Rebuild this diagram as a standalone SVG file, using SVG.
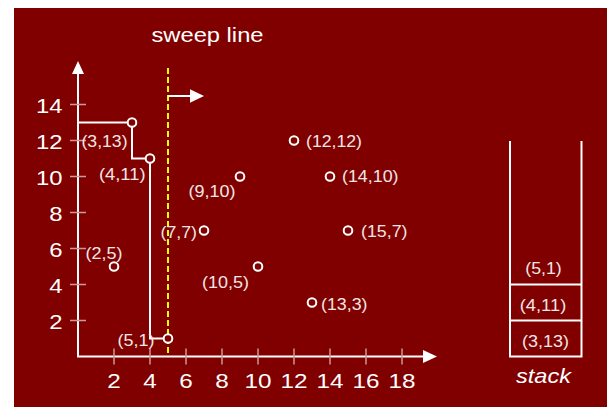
<svg xmlns="http://www.w3.org/2000/svg" width="614" height="407" viewBox="0 0 614 407">
<style>
.bg{fill:#800000}
.ax{stroke:#ffffff;stroke-width:2;fill:none}
.tk{stroke:#cc9999;stroke-width:1.5}
.ah{fill:#ffffff}
.pt{fill:#800000;stroke:#ffffff;stroke-width:2}
.lbl{font-family:"Liberation Sans",Arial,sans-serif;font-size:16.5px;fill:#f2e6e6}
.axl{font-family:"Liberation Sans",Arial,sans-serif;font-size:21px;fill:#ffffff}
.yl{font-family:"Liberation Sans",Arial,sans-serif;font-size:20.5px;fill:#ffffff;text-anchor:end}
.xl{text-anchor:middle}
.st{stroke:#ffffff;stroke-width:2;fill:none}
.mid{text-anchor:middle}
</style>
<rect class="bg" x="14" y="8" width="593" height="399"/>
<text class="axl" x="151.5" y="42" textLength="112" lengthAdjust="spacingAndGlyphs">sweep line</text>
<g id="axes">
<line class="ax" x1="78" y1="356.5" x2="78" y2="72"/>
<polygon class="ah" points="72,74 78,61 84,74"/>
<line class="ax" x1="77" y1="356.5" x2="425" y2="356.5"/>
<polygon class="ah" points="423,350 437,356.5 423,363"/>
<g class="tk">
<line x1="70" y1="104.5" x2="86" y2="104.5"/>
<line x1="70" y1="140.5" x2="86" y2="140.5"/>
<line x1="70" y1="176.5" x2="86" y2="176.5"/>
<line x1="70" y1="212.5" x2="86" y2="212.5"/>
<line x1="70" y1="248.5" x2="86" y2="248.5"/>
<line x1="70" y1="284.5" x2="86" y2="284.5"/>
<line x1="70" y1="320.5" x2="86" y2="320.5"/>
<line x1="114" y1="348.5" x2="114" y2="364.5"/>
<line x1="150" y1="348.5" x2="150" y2="364.5"/>
<line x1="186" y1="348.5" x2="186" y2="364.5"/>
<line x1="222" y1="348.5" x2="222" y2="364.5"/>
<line x1="258" y1="348.5" x2="258" y2="364.5"/>
<line x1="294" y1="348.5" x2="294" y2="364.5"/>
<line x1="330" y1="348.5" x2="330" y2="364.5"/>
<line x1="366" y1="348.5" x2="366" y2="364.5"/>
<line x1="402" y1="348.5" x2="402" y2="364.5"/>
</g>
<text class="yl" x="62.5" y="112.5" textLength="26.5" lengthAdjust="spacingAndGlyphs">14</text>
<text class="yl" x="62.5" y="148.5" textLength="26.5" lengthAdjust="spacingAndGlyphs">12</text>
<text class="yl" x="62.5" y="184.5" textLength="26.5" lengthAdjust="spacingAndGlyphs">10</text>
<text class="yl" x="62.5" y="220.5" textLength="13.3" lengthAdjust="spacingAndGlyphs">8</text>
<text class="yl" x="62.5" y="256.5" textLength="13.3" lengthAdjust="spacingAndGlyphs">6</text>
<text class="yl" x="62.5" y="292.5" textLength="13.3" lengthAdjust="spacingAndGlyphs">4</text>
<text class="yl" x="62.5" y="328.5" textLength="13.3" lengthAdjust="spacingAndGlyphs">2</text>
<text class="axl xl" x="114" y="388" textLength="13.5" lengthAdjust="spacingAndGlyphs">2</text>
<text class="axl xl" x="150" y="388" textLength="13.5" lengthAdjust="spacingAndGlyphs">4</text>
<text class="axl xl" x="186" y="388" textLength="13.5" lengthAdjust="spacingAndGlyphs">6</text>
<text class="axl xl" x="222" y="388" textLength="13.5" lengthAdjust="spacingAndGlyphs">8</text>
<text class="axl xl" x="258" y="388" textLength="27" lengthAdjust="spacingAndGlyphs">10</text>
<text class="axl xl" x="294" y="388" textLength="27" lengthAdjust="spacingAndGlyphs">12</text>
<text class="axl xl" x="330" y="388" textLength="27" lengthAdjust="spacingAndGlyphs">14</text>
<text class="axl xl" x="366" y="388" textLength="27" lengthAdjust="spacingAndGlyphs">16</text>
<text class="axl xl" x="402" y="388" textLength="27" lengthAdjust="spacingAndGlyphs">18</text>
</g>
<g id="sweep-line">
<line x1="168" y1="68" x2="168" y2="356" stroke="#ffff00" stroke-width="2" stroke-dasharray="6,3"/>
<line class="ax" x1="168" y1="96" x2="192" y2="96"/>
<polygon class="ah" points="190,89.3 204,96 190,102.7"/>
</g>
<g id="connectors">
<path class="ax" d="M78,122.5 H132 V158.5 H150 V338.5 H168"/>
</g>
<g id="p3-13"><circle class="pt" cx="132" cy="122.5" r="4.3"/><text class="lbl" x="81.5" y="147" textLength="46" lengthAdjust="spacingAndGlyphs">(3,13)</text></g>
<g id="p4-11"><circle class="pt" cx="150" cy="158.5" r="4.3"/><text class="lbl" x="99" y="179.5" textLength="46.5" lengthAdjust="spacingAndGlyphs">(4,11)</text></g>
<g id="p9-10"><circle class="pt" cx="240" cy="176.5" r="4.3"/><text class="lbl" x="188.5" y="196.5" textLength="47" lengthAdjust="spacingAndGlyphs">(9,10)</text></g>
<g id="p7-7"><circle class="pt" cx="204" cy="230.5" r="4.3"/><text class="lbl" x="160.5" y="238" textLength="36.5" lengthAdjust="spacingAndGlyphs">(7,7)</text></g>
<g id="p2-5"><circle class="pt" cx="114" cy="266.5" r="4.3"/><text class="lbl" x="85.5" y="258.5" textLength="37" lengthAdjust="spacingAndGlyphs">(2,5)</text></g>
<g id="p10-5"><circle class="pt" cx="258" cy="266.5" r="4.3"/><text class="lbl" x="202" y="287.5" textLength="47" lengthAdjust="spacingAndGlyphs">(10,5)</text></g>
<g id="p13-3"><circle class="pt" cx="312" cy="302.5" r="4.3"/><text class="lbl" x="321" y="309.5" textLength="46.5" lengthAdjust="spacingAndGlyphs">(13,3)</text></g>
<g id="p5-1"><circle class="pt" cx="168" cy="338.5" r="4.3"/><text class="lbl" x="117.5" y="345.5" textLength="37" lengthAdjust="spacingAndGlyphs">(5,1)</text></g>
<g id="p12-12"><circle class="pt" cx="294" cy="140.5" r="4.3"/><text class="lbl" x="306" y="147" textLength="56" lengthAdjust="spacingAndGlyphs">(12,12)</text></g>
<g id="p14-10"><circle class="pt" cx="330" cy="176.5" r="4.3"/><text class="lbl" x="342" y="181.5" textLength="56.5" lengthAdjust="spacingAndGlyphs">(14,10)</text></g>
<g id="p15-7"><circle class="pt" cx="348" cy="230.5" r="4.3"/><text class="lbl" x="361" y="236.5" textLength="46.5" lengthAdjust="spacingAndGlyphs">(15,7)</text></g>
<g id="stack">
<path class="st" d="M510,141 V356.5 H581.5 V141"/>
<line class="st" x1="510" y1="284.5" x2="581.5" y2="284.5"/>
<line class="st" x1="510" y1="320.5" x2="581.5" y2="320.5"/>
<text class="lbl mid" x="543.5" y="273.5" textLength="36.5" lengthAdjust="spacingAndGlyphs">(5,1)</text>
<text class="lbl mid" x="543" y="311" textLength="46.5" lengthAdjust="spacingAndGlyphs">(4,11)</text>
<text class="lbl mid" x="545.5" y="347" textLength="47" lengthAdjust="spacingAndGlyphs">(3,13)</text>
<text class="axl mid" x="543.5" y="383.3" font-size="20.5" font-style="italic" textLength="55" lengthAdjust="spacingAndGlyphs">stack</text>
</g>
</svg>
